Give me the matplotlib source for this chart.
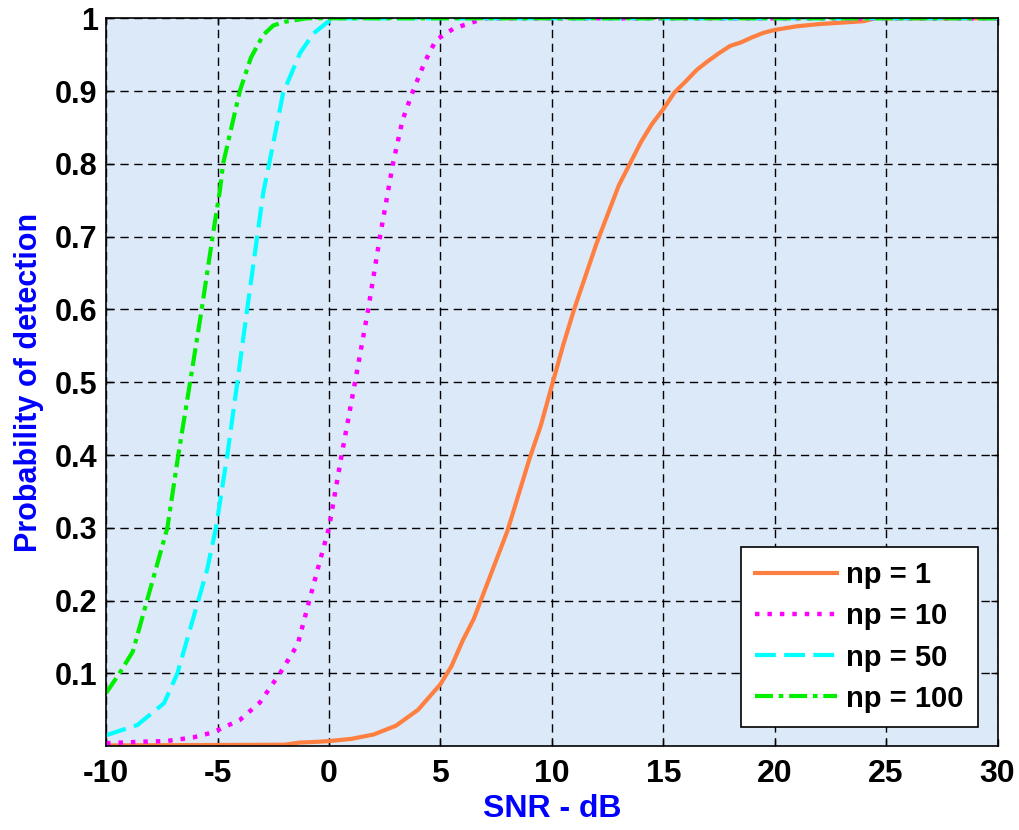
import matplotlib
matplotlib.use("Agg")
import matplotlib.pyplot as plt

# detection probability vs SNR for different numbers of integrated pulses
snr_np1 = [-10, -2, -1.3, -0.5, 0, 1, 2, 3, 4, 5, 5.5, 6, 6.5, 7, 7.5, 8, 8.5, 9, 9.5,
           10, 10.5, 11, 11.5, 12, 12.5, 13, 13.5, 14, 14.5, 15, 15.5, 16, 16.5, 17,
           17.5, 18, 18.5, 19, 19.5, 20, 21, 22, 23, 24, 24.5, 30]
pd_np1 = [0.001, 0.002, 0.005, 0.006, 0.007, 0.010, 0.016, 0.028, 0.050, 0.085, 0.11,
          0.145, 0.175, 0.215, 0.255, 0.295, 0.345, 0.395, 0.44, 0.495, 0.55, 0.60,
          0.645, 0.69, 0.73, 0.77, 0.80, 0.83, 0.855, 0.875, 0.898, 0.913, 0.929, 0.941,
          0.952, 0.962, 0.967, 0.974, 0.980, 0.984, 0.989, 0.992, 0.994, 0.996, 1.0, 1.0]

snr_np10 = [-10, -8.5, -7.3, -6.1, -5.2, -4, -3.1, -2.2, -1.4, -0.9, -0.4, 0, 0.57, 1.17,
            1.76, 2.29, 2.87, 3.3, 3.77, 4.3, 4.8, 5.6, 6.5, 7, 30]
pd_np10 = [0.004, 0.006, 0.007, 0.012, 0.019, 0.036, 0.06, 0.10, 0.14, 0.198, 0.255, 0.30,
           0.40, 0.50, 0.60, 0.70, 0.80, 0.86, 0.90, 0.94, 0.97, 0.986, 0.995, 1.0, 1.0]

snr_np50 = [-10, -8.6, -7.4, -6.8, -5.9, -5.47, -5.07, -4.56, -4.11, -3.67, -3.22, -2.95,
            -2.5, -2.06, -1.3, -0.7, -0.05, 0.5, 30]
pd_np50 = [0.015, 0.029, 0.059, 0.10, 0.196, 0.242, 0.30, 0.40, 0.50, 0.60, 0.70, 0.76,
           0.828, 0.897, 0.952, 0.979, 0.995, 1.0, 1.0]

snr_np100 = [-10, -9.4, -8.8, -8.2, -7.25, -6.76, -6.23, -5.71, -5.22, -4.89, -4.75, -4.3,
             -4.0, -3.5, -2.95, -2.5, -2.0, -1.0, 30]
pd_np100 = [0.073, 0.10, 0.13, 0.196, 0.30, 0.40, 0.50, 0.60, 0.70, 0.764, 0.80, 0.86,
            0.90, 0.946, 0.977, 0.99, 0.995, 1.0, 1.0]

labels = ["np = 1", "np = 10", "np = 50", "np = 100"]
xticks = [-10, -5, 0, 5, 10, 15, 20, 25, 30]
yticks = [0.1, 0.2, 0.3, 0.4, 0.5, 0.6, 0.7, 0.8, 0.9, 1]

plt.rcParams["font.family"] = ["Liberation Sans", "DejaVu Sans"]
plt.rcParams["font.weight"] = "bold"
plt.rcParams["axes.unicode_minus"] = False

fig = plt.figure(figsize=(10.2, 8.3), dpi=100)
ax = fig.add_axes([0.104, 0.101, 0.874, 0.877])
ax.set_facecolor("#dce9f8")

ax.plot(snr_np1, pd_np1, color="#ff7f40", lw=3.0, ls="-", label=labels[0])
ax.plot(snr_np10, pd_np10, color="#ff00ff", lw=3.2, ls=(0, (1, 1.8)), label=labels[1])
ax.plot(snr_np50, pd_np50, color="#00ffff", lw=3.0, ls=(0, (5, 2)), label=labels[2])
ax.plot(snr_np100, pd_np100, color="#00ee00", lw=3.0, ls=(0, (4.3, 1.4, 1.1, 1.4)),
        label=labels[3])

ax.set_xlim(-10, 30)
ax.set_ylim(0, 1)
ax.set_xticks(xticks)
ax.set_yticks(yticks)
ax.set_yticklabels(["%g" % v for v in yticks])
ax.tick_params(direction="in", top=True, right=True, length=5, width=1)
ax.tick_params(axis="x", pad=9)
ax.tick_params(axis="y", pad=6)
for lbl in ax.get_xticklabels():
    lbl.set_fontsize(23)
    lbl.set_fontweight("bold")
for lbl in ax.get_yticklabels():
    lbl.set_fontsize(22)
    lbl.set_fontweight("bold")

ax.grid(True, color="black", ls=(0, (6, 4)), lw=1.0)
ax.set_axisbelow(True)
for spine in ax.spines.values():
    spine.set_linewidth(1.2)

ax.set_xlabel("SNR - dB", color="#0000ff", fontsize=23, fontweight="bold", labelpad=4)
ax.set_ylabel("Probability of detection", color="#0000ff", fontsize=22,
              fontweight="bold", labelpad=8)

leg = ax.legend(loc="lower right", prop={"size": 21, "weight": "bold"},
                fancybox=False, framealpha=1, edgecolor="black", handlelength=2.8,
                handletextpad=0.3, borderpad=0.5, labelspacing=0.45,
                borderaxespad=0, bbox_to_anchor=(0.9776, 0.026))
leg.get_frame().set_linewidth(1.2)

fig.savefig("out.png", dpi=100, facecolor="white")
